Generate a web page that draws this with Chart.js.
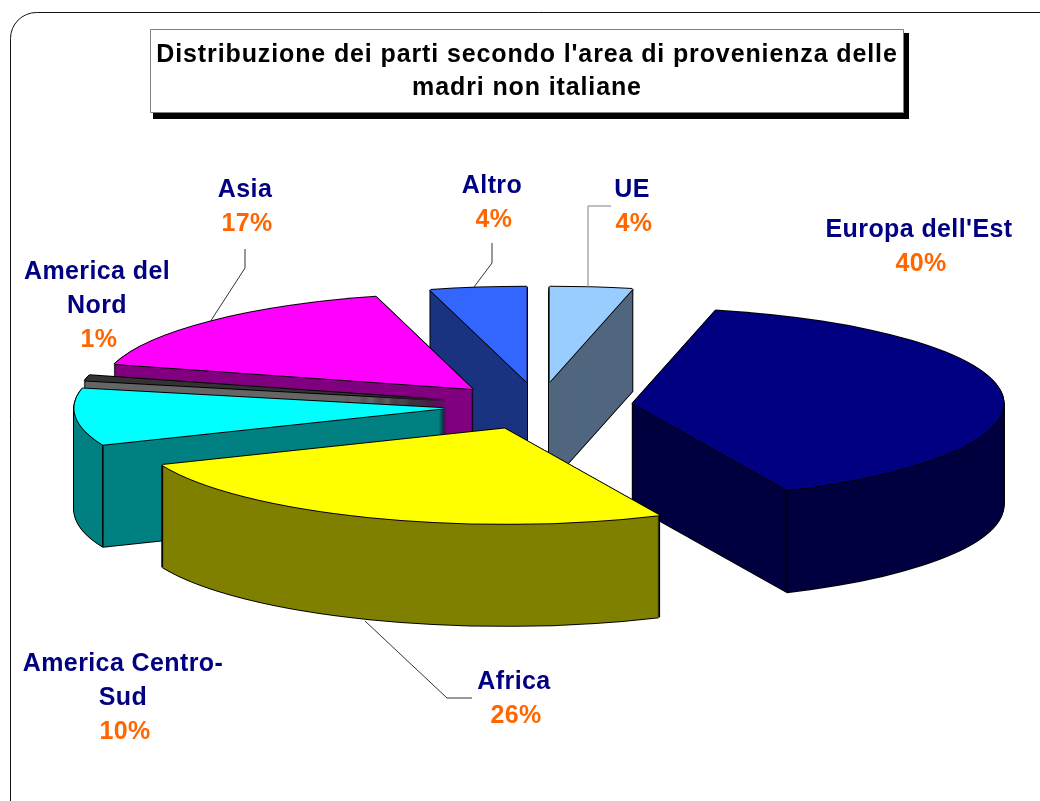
<!DOCTYPE html>
<html><head><meta charset="utf-8">
<style>html,body{margin:0;padding:0;background:#fff}canvas{display:block}</style>
<script src="https://cdn.jsdelivr.net/npm/chart.js@4/dist/chart.umd.min.js"></script>
</head><body><canvas id="c" width="1040" height="801"></canvas>
<script>
const categories = ["UE","Europa dell'Est","Africa","America Centro-Sud","America del Nord","Asia","Altro"];
const values = [3.6,39.6,25.6,9.6,0.9,16.6,4.2];
const topColors = ["#99CCFF","#000080","#FFFF00","#00FFFF","#333333","#FF00FF","#3366FF"];
const sideColors = ["#50667F","#000040","#808000","#008080","#666666","#800080","#1A3380"];
const drawOrder = [6,0,5,4,3,1,2];
const labelLines = [["UE"],["Europa dell'Est"],["Africa"],["America Centro-","Sud"],["America del","Nord"],["Asia"],["Altro"]];
const labelAnchors = [[632,197],[919,237],[514,689],[123,671],[97,279],[245,197],[492,193]];
const leaders = [
  {c:"#808080",p:[[611,206],[588,206],[588,288]]},
  {c:"#333333",p:[[472,698],[447,698],[365,621]]},
  {c:"#333333",p:[[245,249],[245,268],[210,322]]},
  {c:"#333333",p:[[492,243],[492,263],[474,287]]}
];
const CX=539, CY=406, SQ=0.257, DEPTH=102, EXPLODE=94, FONT='"Liberation Sans",Arial,sans-serif';

function explode(arc){
  const h=(arc.startAngle+arc.endAngle)/2;
  return [Math.cos(h)*EXPLODE, Math.sin(h)*EXPLODE];
}
function stamp(ctx,arc,color,dx,dy){
  const o=arc.options, e=explode(arc);
  arc.options=Object.assign({},o,{backgroundColor:color,borderWidth:0});
  ctx.save();
  ctx.translate(CX+dx,CY+dy);
  ctx.scale(1,SQ);
  ctx.translate(e[0]-arc.x,e[1]-arc.y);
  arc.draw(ctx);
  ctx.restore();
  arc.options=o;
}
function rimPoint(arc,a){
  const e=explode(arc);
  return [CX+e[0]+Math.cos(a)*arc.outerRadius, CY+(e[1]+Math.sin(a)*arc.outerRadius)*SQ];
}
const pie3d={
  id:'pie3d',
  beforeDraw(chart){
    const ctx=chart.ctx;
    ctx.letterSpacing='0.88px';
    ctx.save();
    ctx.fillStyle='#fff';ctx.fillRect(0,0,1040,801);
    ctx.strokeStyle='#111';ctx.lineWidth=1;
    ctx.beginPath();ctx.roundRect(10.5,12.5,1060,820,26);ctx.stroke();
    ctx.fillStyle='#000';ctx.fillRect(153,33,756,86);
    ctx.fillStyle='#fff';ctx.strokeStyle='#808080';
    ctx.beginPath();ctx.rect(150.5,29.5,753,83);ctx.fill();ctx.stroke();
    ctx.restore();
  },
  beforeDatasetsDraw(chart){
    const ctx=chart.ctx, arcs=chart.getDatasetMeta(0).data;
    for(const i of drawOrder){
      const arc=arcs[i];
      for(let d=DEPTH;d>=0;d--){stamp(ctx,arc,'#000',-1,d);stamp(ctx,arc,'#000',1,d);}
      stamp(ctx,arc,'#000',0,DEPTH+1);
      for(let d=DEPTH;d>=0;d--)stamp(ctx,arc,sideColors[i],0,d);
      ctx.save();ctx.strokeStyle='#000';ctx.lineWidth=1.5;
      for(const a of [arc.startAngle,arc.endAngle]){
        const p=rimPoint(arc,a);
        if(Math.sin(a)>0.05){ctx.beginPath();ctx.moveTo(p[0],p[1]);ctx.lineTo(p[0],p[1]+DEPTH);ctx.stroke();}
      }
      ctx.restore();
      for(const [x,y] of [[-1,0],[1,0],[0,-1],[0,1]])stamp(ctx,arc,'#000',x,y);
      stamp(ctx,arc,topColors[i],0,0);
    }
    return false;
  },
  afterDraw(chart){
    const ctx=chart.ctx;
    ctx.save();ctx.lineWidth=1;
    for(const l of leaders){
      ctx.strokeStyle=l.c;ctx.beginPath();
      l.p.forEach((q,k)=>k?ctx.lineTo(q[0],q[1]):ctx.moveTo(q[0],q[1]));
      ctx.stroke();
    }
    ctx.textAlign='center';ctx.textBaseline='alphabetic';
    ctx.letterSpacing='0.4px';
    ctx.font='bold 25px '+FONT;
    categories.forEach((_,i)=>{
      const [x,y]=labelAnchors[i];
      ctx.fillStyle='#000080';
      labelLines[i].forEach((t,k)=>ctx.fillText(t,x,y+k*34));
      ctx.fillStyle='#FF6600';
      ctx.fillText(Math.round(values[i])+'%',x+2,y+labelLines[i].length*34);
    });
    ctx.restore();
  }
};
new Chart(document.getElementById('c'),{
  type:'pie',
  data:{labels:categories,datasets:[{data:values,backgroundColor:topColors,borderWidth:0}]},
  plugins:[pie3d],
  options:{
    responsive:false,animation:false,radius:371,
    layout:{padding:{left:14}},
    plugins:{
      legend:{display:false},tooltip:{enabled:false},
      title:{display:true,text:["Distribuzione dei parti secondo l'area di provenienza delle","madri non italiane"],
        color:'#000',font:{family:FONT,size:25,weight:'bold',lineHeight:1.32},padding:{top:39,bottom:0}}
    }
  }
});
</script></body></html>
